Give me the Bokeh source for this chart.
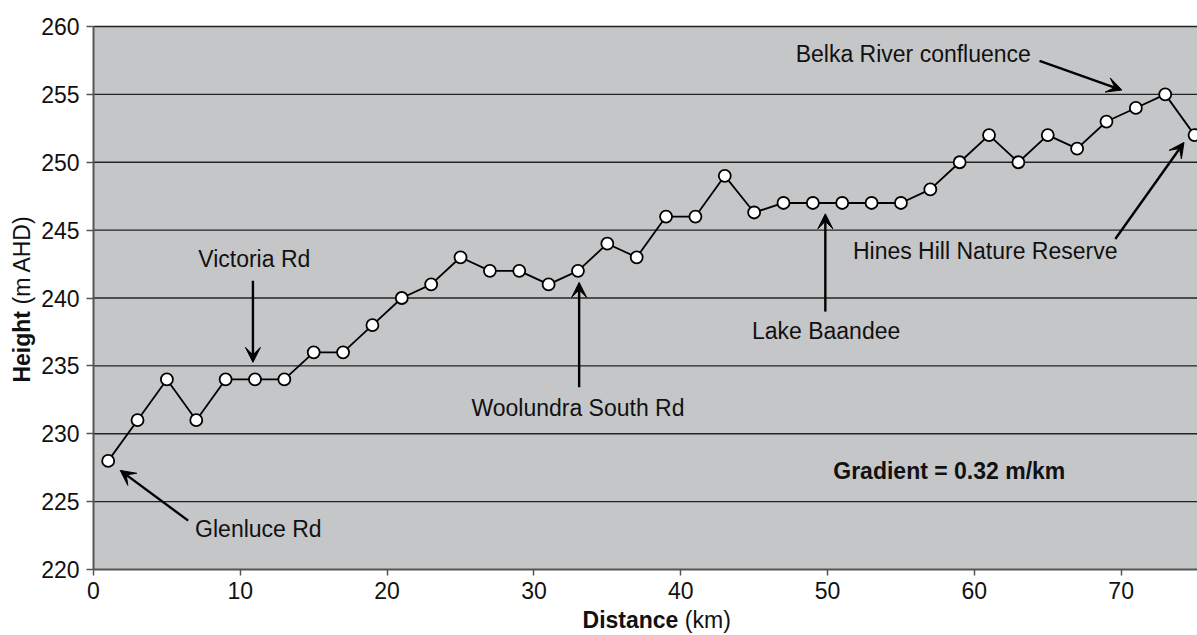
import math
from bokeh.plotting import figure
from bokeh.models import Label, Arrow, VeeHead, FixedTicker, Range1d, BoxAnnotation
from bokeh.embed import file_html
from bokeh.resources import INLINE

# ---- data ----
distance_km = [1, 3, 5, 7, 9, 11, 13, 15, 17, 19, 21, 23, 25, 27, 29, 31, 33, 35, 37,
               39, 41, 43, 45, 47, 49, 51, 53, 55, 57, 59, 61, 63, 65, 67, 69, 71, 73, 75]
height_m = [228, 231, 234, 231, 234, 234, 234, 236, 236, 238, 240, 241, 243, 242, 242, 241, 242, 244, 243,
            246, 246, 249, 246.3, 247, 247, 247, 247, 247, 248, 250, 252, 250, 252, 251, 253, 254, 255, 252]
x_ticks = [0, 10, 20, 30, 40, 50, 60, 70]
y_ticks = [220, 225, 230, 235, 240, 245, 250, 255, 260]

X_LO, X_HI = 0, 75.2
Y_LO, Y_HI = 220, 260

FONT = "Liberation Sans"
FS = "23px"
W, H = 1197, 635
# plot-area placement inside the canvas (pixels)
LEFT, TOP, BOTTOM = 93, 26, 569
xs_px = (W - LEFT) / (X_HI - X_LO)
ys_px = (BOTTOM - TOP) / (Y_HI - Y_LO)

p = figure(width=W, height=H, output_backend="svg", toolbar_location=None,
           x_range=Range1d(X_LO - LEFT / xs_px, X_HI),
           y_range=Range1d(Y_LO - (H - BOTTOM) / ys_px, Y_HI + TOP / ys_px),
           min_border=0)
p.background_fill_color = "white"
p.border_fill_color = "white"
p.outline_line_color = None
p.grid.visible = False

# grey plotting area
p.add_layout(BoxAnnotation(left=X_LO, right=X_HI, bottom=Y_LO, top=Y_HI,
                           fill_color="#c5c6c8", fill_alpha=1, line_color=None, level="underlay"))
# horizontal grid lines
p.segment(x0=[X_LO] * len(y_ticks[1:]), x1=[X_HI] * len(y_ticks[1:]), y0=y_ticks[1:], y1=y_ticks[1:],
          line_color="#222222", line_width=1.4)

p.xaxis.fixed_location = Y_LO
p.yaxis.fixed_location = X_LO
p.xaxis.bounds = (X_LO, X_HI)
p.yaxis.bounds = (Y_LO, Y_HI)
p.xaxis.ticker = FixedTicker(ticks=x_ticks)
p.yaxis.ticker = FixedTicker(ticks=y_ticks)

for ax in (p.xaxis, p.yaxis):
    ax.axis_line_color = "#555555"
    ax.axis_line_width = 2
    ax.major_tick_line_color = "#555555"
    ax.major_tick_line_width = 1.5
    ax.minor_tick_line_color = None
    ax.major_tick_in = 0
    ax.major_label_text_font = FONT
    ax.major_label_text_font_size = FS
    ax.major_label_text_color = "#111111"
p.xaxis.major_tick_out = 6
p.yaxis.major_tick_out = 7
p.xaxis.major_label_standoff = 6
p.yaxis.major_label_standoff = 7

p.line(distance_km, height_m, line_color="black", line_width=1.8)
p.scatter(distance_km, height_m, size=12, fill_color="white", line_color="black", line_width=1.8)

# ---- annotations (text, x, y, align) ----
notes = [
    ("Glenluce Rd", 6.92, 223.0, "left"),
    ("Victoria Rd", 10.95, 242.9, "center"),
    ("Woolundra South Rd", 33.0, 231.9, "center"),
    ("Lake Baandee", 49.9, 237.6, "center"),
    ("Hines Hill Nature Reserve", 60.74, 243.48, "center"),
    ("Belka River confluence", 55.84, 257.97, "center"),
]
for t, x, y, al in notes:
    p.add_layout(Label(x=x, y=y, text=t, text_font=FONT, text_font_size=FS,
                       text_align=al, text_baseline="middle", text_color="#111111"))

p.add_layout(Label(x=50.39, y=227.28, text="Gradient = 0.32 m/km", text_font=FONT,
                   text_font_size=FS, text_font_style="bold", text_align="left",
                   text_baseline="middle", text_color="#111111"))

# arrows (x_start, y_start, x_end, y_end)
arrows = [
    (6.45, 223.6, 1.82, 227.3),
    (10.86, 241.27, 10.86, 235.26),
    (33.08, 233.42, 33.08, 241.15),
    (49.85, 239.0, 49.85, 246.2),
    (69.6, 244.35, 74.28, 251.46),
    (64.44, 257.47, 70.05, 255.32),
]
for xs, ys, xe, ye in arrows:
    p.add_layout(Arrow(x_start=xs, y_start=ys, x_end=xe, y_end=ye, line_width=2.4,
                       line_color="black",
                       end=VeeHead(size=15, fill_color="black", line_color="black", line_width=1)))

# axis titles (mixed bold/regular)
p.add_layout(Label(x=33.31, y=216.3, text="Distance", text_font=FONT, text_font_size=FS,
                   text_font_style="bold", text_align="left", text_baseline="middle",
                   text_color="#111111"))
p.add_layout(Label(x=40.28, y=216.3, text="(km)", text_font=FONT, text_font_size=FS,
                   text_align="left", text_baseline="middle", text_color="#111111"))
p.add_layout(Label(x=-4.9, y=233.77, text="Height", text_font=FONT, text_font_size=FS,
                   text_font_style="bold", text_align="left", text_baseline="middle",
                   angle=math.pi / 2, text_color="#111111"))
p.add_layout(Label(x=-4.9, y=239.52, text="(m AHD)", text_font=FONT, text_font_size=FS,
                   text_align="left", text_baseline="middle",
                   angle=math.pi / 2, text_color="#111111"))

open("out.html", "w").write(file_html(p, INLINE))
